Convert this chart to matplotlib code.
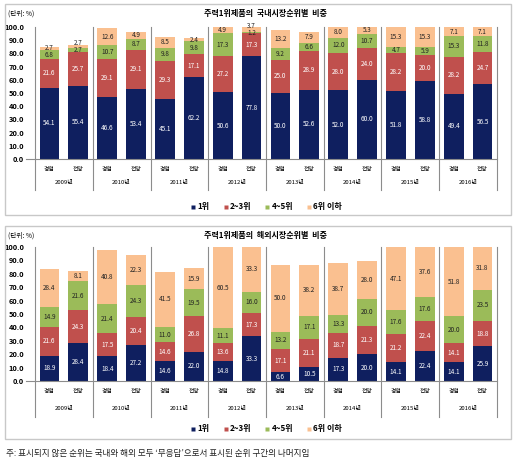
import matplotlib
matplotlib.use('Agg')
import matplotlib.pyplot as plt
from matplotlib.lines import Line2D
from matplotlib.patches import Rectangle

plt.rcParams['font.family'] = ['Noto Sans CJK KR', 'DejaVu Sans']

W, H = 521, 463

years = ['2009년', '2010년', '2011년', '2012년', '2013년', '2014년', '2015년', '2016년']
kinds = ['경험', '전망']
series_names = ['1위', '2~3위', '4~5위', '6위 이하']
colors = ['#0f1f5f', '#c0504d', '#9bbb59', '#fac090']
label_colors = ['white', 'white', '#222222', '#222222']

# 국내시장 (경험, 전망 for each year)
dom_r1 = [54.1, 55.4, 46.6, 53.4, 45.1, 62.2, 50.6, 77.8, 50.0, 52.6, 52.0, 60.0, 51.8, 58.8, 49.4, 56.5]
dom_r23 = [21.6, 25.7, 29.1, 29.1, 29.3, 17.1, 27.2, 17.3, 25.0, 28.9, 28.0, 24.0, 28.2, 20.0, 28.2, 24.7]
dom_r45 = [6.8, 2.7, 10.7, 8.7, 9.8, 9.8, 17.3, 1.2, 9.2, 6.6, 12.0, 10.7, 4.7, 5.9, 15.3, 11.8]
dom_r6 = [2.7, 2.7, 12.6, 4.9, 8.5, 2.4, 4.9, 3.7, 13.2, 7.9, 8.0, 5.3, 15.3, 15.3, 7.1, 7.1]

# 해외시장
ovs_r1 = [18.9, 28.4, 18.4, 27.2, 14.6, 22.0, 14.8, 33.3, 6.6, 10.5, 17.3, 20.0, 14.1, 22.4, 14.1, 25.9]
ovs_r23 = [21.6, 24.3, 17.5, 20.4, 14.6, 26.8, 13.6, 17.3, 17.1, 21.1, 18.7, 21.3, 21.2, 22.4, 14.1, 18.8]
ovs_r45 = [14.9, 21.6, 21.4, 24.3, 11.0, 19.5, 11.1, 16.0, 13.2, 17.1, 13.3, 20.0, 17.6, 17.6, 20.0, 23.5]
ovs_r6 = [28.4, 8.1, 40.8, 22.3, 41.5, 15.9, 60.5, 33.3, 50.0, 38.2, 38.7, 28.0, 47.1, 37.6, 51.8, 31.8]


def fx(x):
    return x / W


def fy(y):
    return 1 - y / H


def plot_panel(fig, rect_px, title, y_top, y_zero, series, cat_off, year_off, sep_off, legend_y):
    """Draw one boxed stacked-bar panel. rect_px = (x0, y0, x1, y1) of the frame."""
    x0, y0, x1, y1 = rect_px
    fig.patches.append(Rectangle((fx(x0), fy(y1)), fx(x1 - x0), (y1 - y0) / H,
                                 transform=fig.transFigure, fill=False,
                                 edgecolor='#c8c8c8', linewidth=1.0))

    ax_left, ax_right = 35, 497
    ax = fig.add_axes([fx(ax_left), fy(y_zero), fx(ax_right - ax_left), (y_zero - y_top) / H])
    n = len(series[0])
    xs = [i + 0.5 for i in range(n)]
    bottoms = [0.0] * n
    prev_centers = [None] * n
    min_gap = 5.2  # keep tiny-segment labels from piling on each other
    for vals, col, lcol in zip(series, colors, label_colors):
        ax.bar(xs, vals, width=0.68, bottom=bottoms, color=col, edgecolor='none', zorder=2)
        for i, v in enumerate(vals):
            c = bottoms[i] + v / 2
            if prev_centers[i] is not None and c - prev_centers[i] < min_gap:
                c = prev_centers[i] + min_gap
            ax.text(xs[i], c, f'{v:.1f}', ha='center', va='center', fontsize=4.6,
                    color=lcol, zorder=4)
            prev_centers[i] = c
        bottoms = [b + v for b, v in zip(bottoms, vals)]

    ax.set_xlim(0, n)
    ax.set_ylim(0, 100)
    for s in ['top', 'right', 'left']:
        ax.spines[s].set_visible(False)
    ax.spines['bottom'].set_color('#8c8c8c')
    ax.spines['bottom'].set_linewidth(0.8)
    ax.set_yticks(range(0, 101, 10))
    ax.set_yticklabels([f'{v:.1f}' for v in range(0, 101, 10)], fontsize=5.3, weight='bold')
    ax.tick_params(axis='y', length=0, pad=8)
    ax.set_xticks(xs)
    ax.set_xticklabels(kinds * len(years), fontsize=4.2)
    ax.tick_params(axis='x', length=0, pad=cat_off)

    trans = ax.get_xaxis_transform()
    sep_frac = -sep_off / (y_zero - y_top)
    for g in range(len(years) + 1):
        ax.plot([2 * g, 2 * g], [sep_frac, 1.0], transform=trans, color='#8c8c8c',
                linewidth=0.8, clip_on=False, zorder=3)
    ax.plot([-0.3, 0], [0, 0], transform=trans, color='#8c8c8c', linewidth=0.8, clip_on=False)
    for g, yr in enumerate(years):
        ax.annotate(yr, (2 * g + 1, 0), xycoords=trans, xytext=(0, -year_off),
                    textcoords='offset pixels', ha='center', va='center', fontsize=4.3)

    fig.text(fx(8), fy(y0 + 10), '(단위: %)', fontsize=4.8, ha='left', va='center')
    fig.text(fx(265), fy(y0 + 9.5), title, fontsize=5.8, weight='bold', ha='center', va='center')

    handles = [Line2D([], [], marker='s', linestyle='none', markersize=3.2,
                      markerfacecolor=c, markeredgecolor='none') for c in colors]
    fig.legend(handles, series_names, loc='center', bbox_to_anchor=(fx(266), fy(legend_y)),
               ncol=4, frameon=False, prop={'size': 5.8, 'weight': 'bold'},
               handletextpad=0.1, columnspacing=1.6, handlelength=0.8)
    return ax


def main():
    fig = plt.figure(figsize=(W / 100, H / 100), dpi=100)

    plot_panel(fig, (5, 4, 511, 215), '주력1위제품의  국내시장순위별  비중', 27, 159,
               [dom_r1, dom_r23, dom_r45, dom_r6],
               cat_off=6, year_off=23, sep_off=31, legend_y=207)
    plot_panel(fig, (5, 226, 511, 439), '주력1위제품의  해외시장순위별  비중', 247, 381,
               [ovs_r1, ovs_r23, ovs_r45, ovs_r6],
               cat_off=6, year_off=28, sep_off=36, legend_y=429)

    fig.text(fx(6), fy(453), '주: 표시되지 않은 순위는 국내와 해외 모두 ‘무응답’으로서 표시된 순위 구간의 나머지임',
             fontsize=6.2, ha='left', va='center', color='#222222')

    fig.savefig('out.png', dpi=100)


if __name__ == '__main__':
    main()
